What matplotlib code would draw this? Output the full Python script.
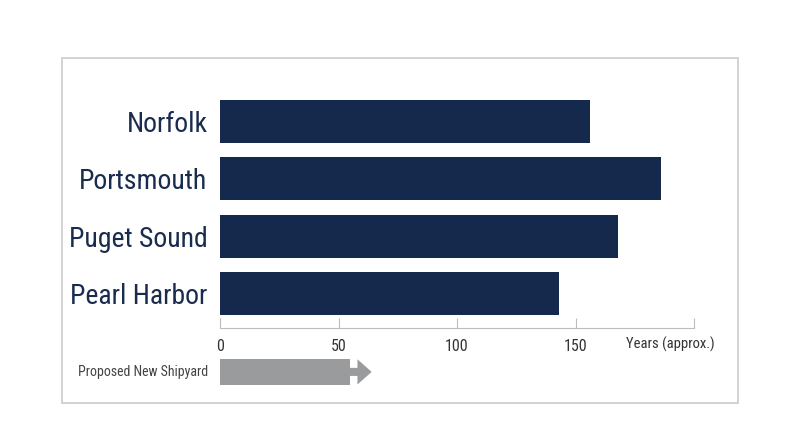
import matplotlib.pyplot as plt
from matplotlib.patches import Rectangle, FancyArrow

# Datos
astilleros = ['Norfolk', 'Portsmouth', 'Puget Sound', 'Pearl Harbor']
anios = [156, 186, 168, 143]
ticks = [0, 50, 100, 150, 200]
tick_labels = ['0', '50', '100', '150', '']
nuevo_astillero = 55   # barra gris "Proposed New Shipyard"

plt.rcParams['font.family'] = ['Roboto Condensed', 'Roboto', 'DejaVu Sans']

azul = '#14294b'
gris = '#9a9b9d'

fig = plt.figure(figsize=(8, 4.47), dpi=100)

# marco exterior
fig.patches.append(Rectangle((62/800, 1-403/447), 676/800, 345/447,
                             transform=fig.transFigure, fill=False,
                             edgecolor='#cfcfcf', linewidth=1.3))

ax = fig.add_axes([220/800, 1-328/447, 474/800, 241/447])
y = list(range(len(astilleros)))
ax.barh(y, anios, height=0.75, color=azul)

ax.set_xlim(0, 200)
ax.set_ylim(3.6, -0.6)
ax.set_yticks(y)
ax.set_yticklabels(astilleros, fontsize=20, color='#1a2c4e')
ax.tick_params(axis='y', length=0, pad=9)
ax.set_xticks(ticks)
ax.set_xticklabels(tick_labels, fontsize=11.5, color='#333333')
ax.tick_params(axis='x', direction='in', length=7, color='#bdbdbd', pad=8)

for s in ['top', 'right', 'left']:
    ax.spines[s].set_visible(False)
ax.spines['bottom'].set_color('#bdbdbd')

ax.text(190, 3.6 + 0.28, 'Years (approx.)', ha='center', va='center',
        fontsize=10.5, color='#333333', clip_on=False)

# flecha del astillero propuesto
yc = 4.365
ax.add_patch(Rectangle((0, yc - 0.22), nuevo_astillero, 0.44,
                       facecolor=gris, edgecolor='none', clip_on=False))
ax.add_patch(FancyArrow(nuevo_astillero - 2, yc, 11, 0, width=0.14,
                        head_width=0.44, head_length=6, length_includes_head=True,
                        facecolor=gris, edgecolor='none', clip_on=False))
ax.text(-5, yc, 'Proposed New Shipyard', ha='right', va='center',
        fontsize=10, color='#444444', clip_on=False)

fig.savefig('out.png', dpi=100)
